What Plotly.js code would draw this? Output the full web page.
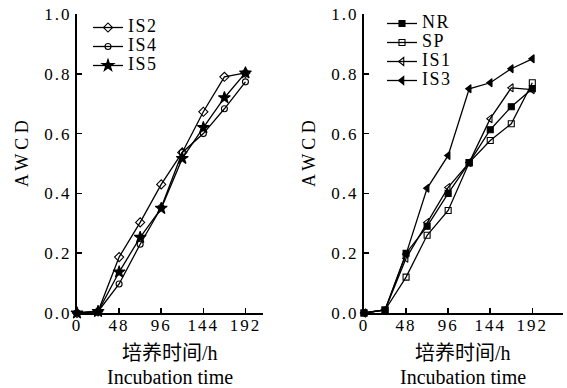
<!DOCTYPE html>
<html>
<head>
<meta charset="utf-8">
<script src="https://cdn.plot.ly/plotly-3.0.1.min.js"></script>
<style>html,body{margin:0;padding:0;background:#fff;}#chart{width:567px;height:388px;}</style>
</head>
<body>
<div id="chart"></div>
<script>
// Incubation time (h)
var hours = [0, 24, 48, 72, 96, 120, 144, 168, 192];
var xTicks = [0, 48, 96, 144, 192];
var yTicks = [0, 0.2, 0.4, 0.6, 0.8, 1.0];

// Left panel
var IS2 = [0, 0.005, 0.187, 0.303, 0.43, 0.537, 0.673, 0.79, 0.803];
var IS4 = [0, 0.005, 0.097, 0.23, 0.353, 0.537, 0.6, 0.683, 0.773];
var IS5 = [0, 0.005, 0.137, 0.253, 0.35, 0.517, 0.62, 0.72, 0.803];

// Right panel
var NR  = [0, 0.01, 0.2, 0.29, 0.4, 0.503, 0.613, 0.69, 0.75];
var SP  = [0, 0.01, 0.12, 0.26, 0.343, 0.503, 0.577, 0.633, 0.77];
var IS1 = [0, 0.01, 0.183, 0.303, 0.42, 0.503, 0.65, 0.753, 0.747];
var IS3 = [0, 0.01, 0.197, 0.417, 0.527, 0.75, 0.77, 0.817, 0.85];

var SERIF = "'Liberation Serif', 'Times New Roman', serif";
var CJK = "'Liberation Serif', 'Noto Sans CJK SC', serif";

function lab(t) { return '<span style="font-size:18px;letter-spacing:1.5px">' + t + '</span>'; }
function tk(t) { return '<span style="letter-spacing:2px">' + t + '</span>'; }

function tr(name, y, sym, size, xa, ya, leg) {
  return {
    x: hours, y: y, name: lab(name), type: 'scatter', mode: 'lines+markers',
    xaxis: xa, yaxis: ya, legend: leg, cliponaxis: false,
    line: {color: '#000', width: 1.3},
    marker: {symbol: sym, size: size, color: '#000', line: {color: '#000', width: 1.1}}
  };
}

var data = [
  tr('IS2', IS2, 'diamond-open', 7, 'x', 'y', 'legend'),
  tr('IS4', IS4, 'circle-open', 6, 'x', 'y', 'legend'),
  tr('IS5', IS5, 'star', 9, 'x', 'y', 'legend'),
  tr('NR', NR, 'square', 6, 'x2', 'y2', 'legend2'),
  tr('SP', SP, 'square-open', 6, 'x2', 'y2', 'legend2'),
  tr('IS1', IS1, 'triangle-left-open', 7, 'x2', 'y2', 'legend2'),
  tr('IS3', IS3, 'triangle-left', 7, 'x2', 'y2', 'legend2')
];

function xax(domain, range, anchor) {
  return {
    domain: domain, range: range, anchor: anchor,
    tickmode: 'array', tickvals: xTicks, ticktext: xTicks.map(function (v) { return tk(String(v)); }),
    ticks: 'inside', ticklen: 5, tickwidth: 1.5, tickcolor: '#000',
    ticklabelstandoff: -4,
    showline: true, linecolor: '#000', linewidth: 2, showgrid: false, zeroline: false,
    tickfont: {family: SERIF, size: 17, color: '#000'}
  };
}
function yax(anchor) {
  return {
    domain: [0, 1], range: [0, 1], anchor: anchor,
    tickmode: 'array', tickvals: yTicks, ticktext: yTicks.map(function (v) { return tk(v.toFixed(1)); }),
    ticks: 'inside', ticklen: 5, tickwidth: 1.5, tickcolor: '#000',
    showline: true, linecolor: '#000', linewidth: 2, showgrid: false, zeroline: false,
    tickfont: {family: SERIF, size: 17, color: '#000'}
  };
}

var W = 567, PT = 14, PB = 75, PH = 388 - PT - PB;
function px2x(p) { return p / W; }
function py2y(p) { return (388 - PB - p) / PH; }

var layout = {
  width: 567, height: 388,
  margin: {l: 0, r: 0, t: PT, b: PB},
  paper_bgcolor: '#fff', plot_bgcolor: 'rgba(0,0,0,0)',
  showlegend: true,
  xaxis: xax([px2x(77), px2x(263)], [0, 212], 'y'),
  yaxis: yax('x'),
  xaxis2: xax([px2x(364), px2x(563)], [0, 227], 'y2'),
  yaxis2: yax('x2'),
  legend: {
    x: px2x(88), y: py2y(13), xanchor: 'left', yanchor: 'top',
    bgcolor: 'rgba(0,0,0,0)', borderwidth: 0,
    font: {family: SERIF, size: 11.7, color: '#000'}, tracegroupgap: 0
  },
  legend2: {
    x: px2x(382), y: py2y(9), xanchor: 'left', yanchor: 'top',
    bgcolor: 'rgba(0,0,0,0)', borderwidth: 0,
    font: {family: SERIF, size: 11.8, color: '#000'}, tracegroupgap: 0
  },
  annotations: [
    {text: 'A W C D', xref: 'paper', yref: 'paper', x: px2x(22), y: py2y(154), textangle: -90,
     showarrow: false, xanchor: 'center', yanchor: 'middle', font: {family: SERIF, size: 18, color: '#000'}},
    {text: 'A W C D', xref: 'paper', yref: 'paper', x: px2x(309), y: py2y(154), textangle: -90,
     showarrow: false, xanchor: 'center', yanchor: 'middle', font: {family: SERIF, size: 18, color: '#000'}},
    {text: '培养时间/h', xref: 'paper', yref: 'paper', x: px2x(170), y: py2y(353),
     showarrow: false, xanchor: 'center', yanchor: 'middle', font: {family: CJK, size: 20, color: '#000'}},
    {text: 'Incubation time', xref: 'paper', yref: 'paper', x: px2x(170), y: py2y(377),
     showarrow: false, xanchor: 'center', yanchor: 'middle', font: {family: SERIF, size: 20, color: '#000'}},
    {text: '培养时间/h', xref: 'paper', yref: 'paper', x: px2x(463), y: py2y(353),
     showarrow: false, xanchor: 'center', yanchor: 'middle', font: {family: CJK, size: 20, color: '#000'}},
    {text: 'Incubation time', xref: 'paper', yref: 'paper', x: px2x(463), y: py2y(377),
     showarrow: false, xanchor: 'center', yanchor: 'middle', font: {family: SERIF, size: 20, color: '#000'}}
  ]
};

Plotly.newPlot('chart', data, layout, {staticPlot: true, displayModeBar: false});
</script>
</body>
</html>
